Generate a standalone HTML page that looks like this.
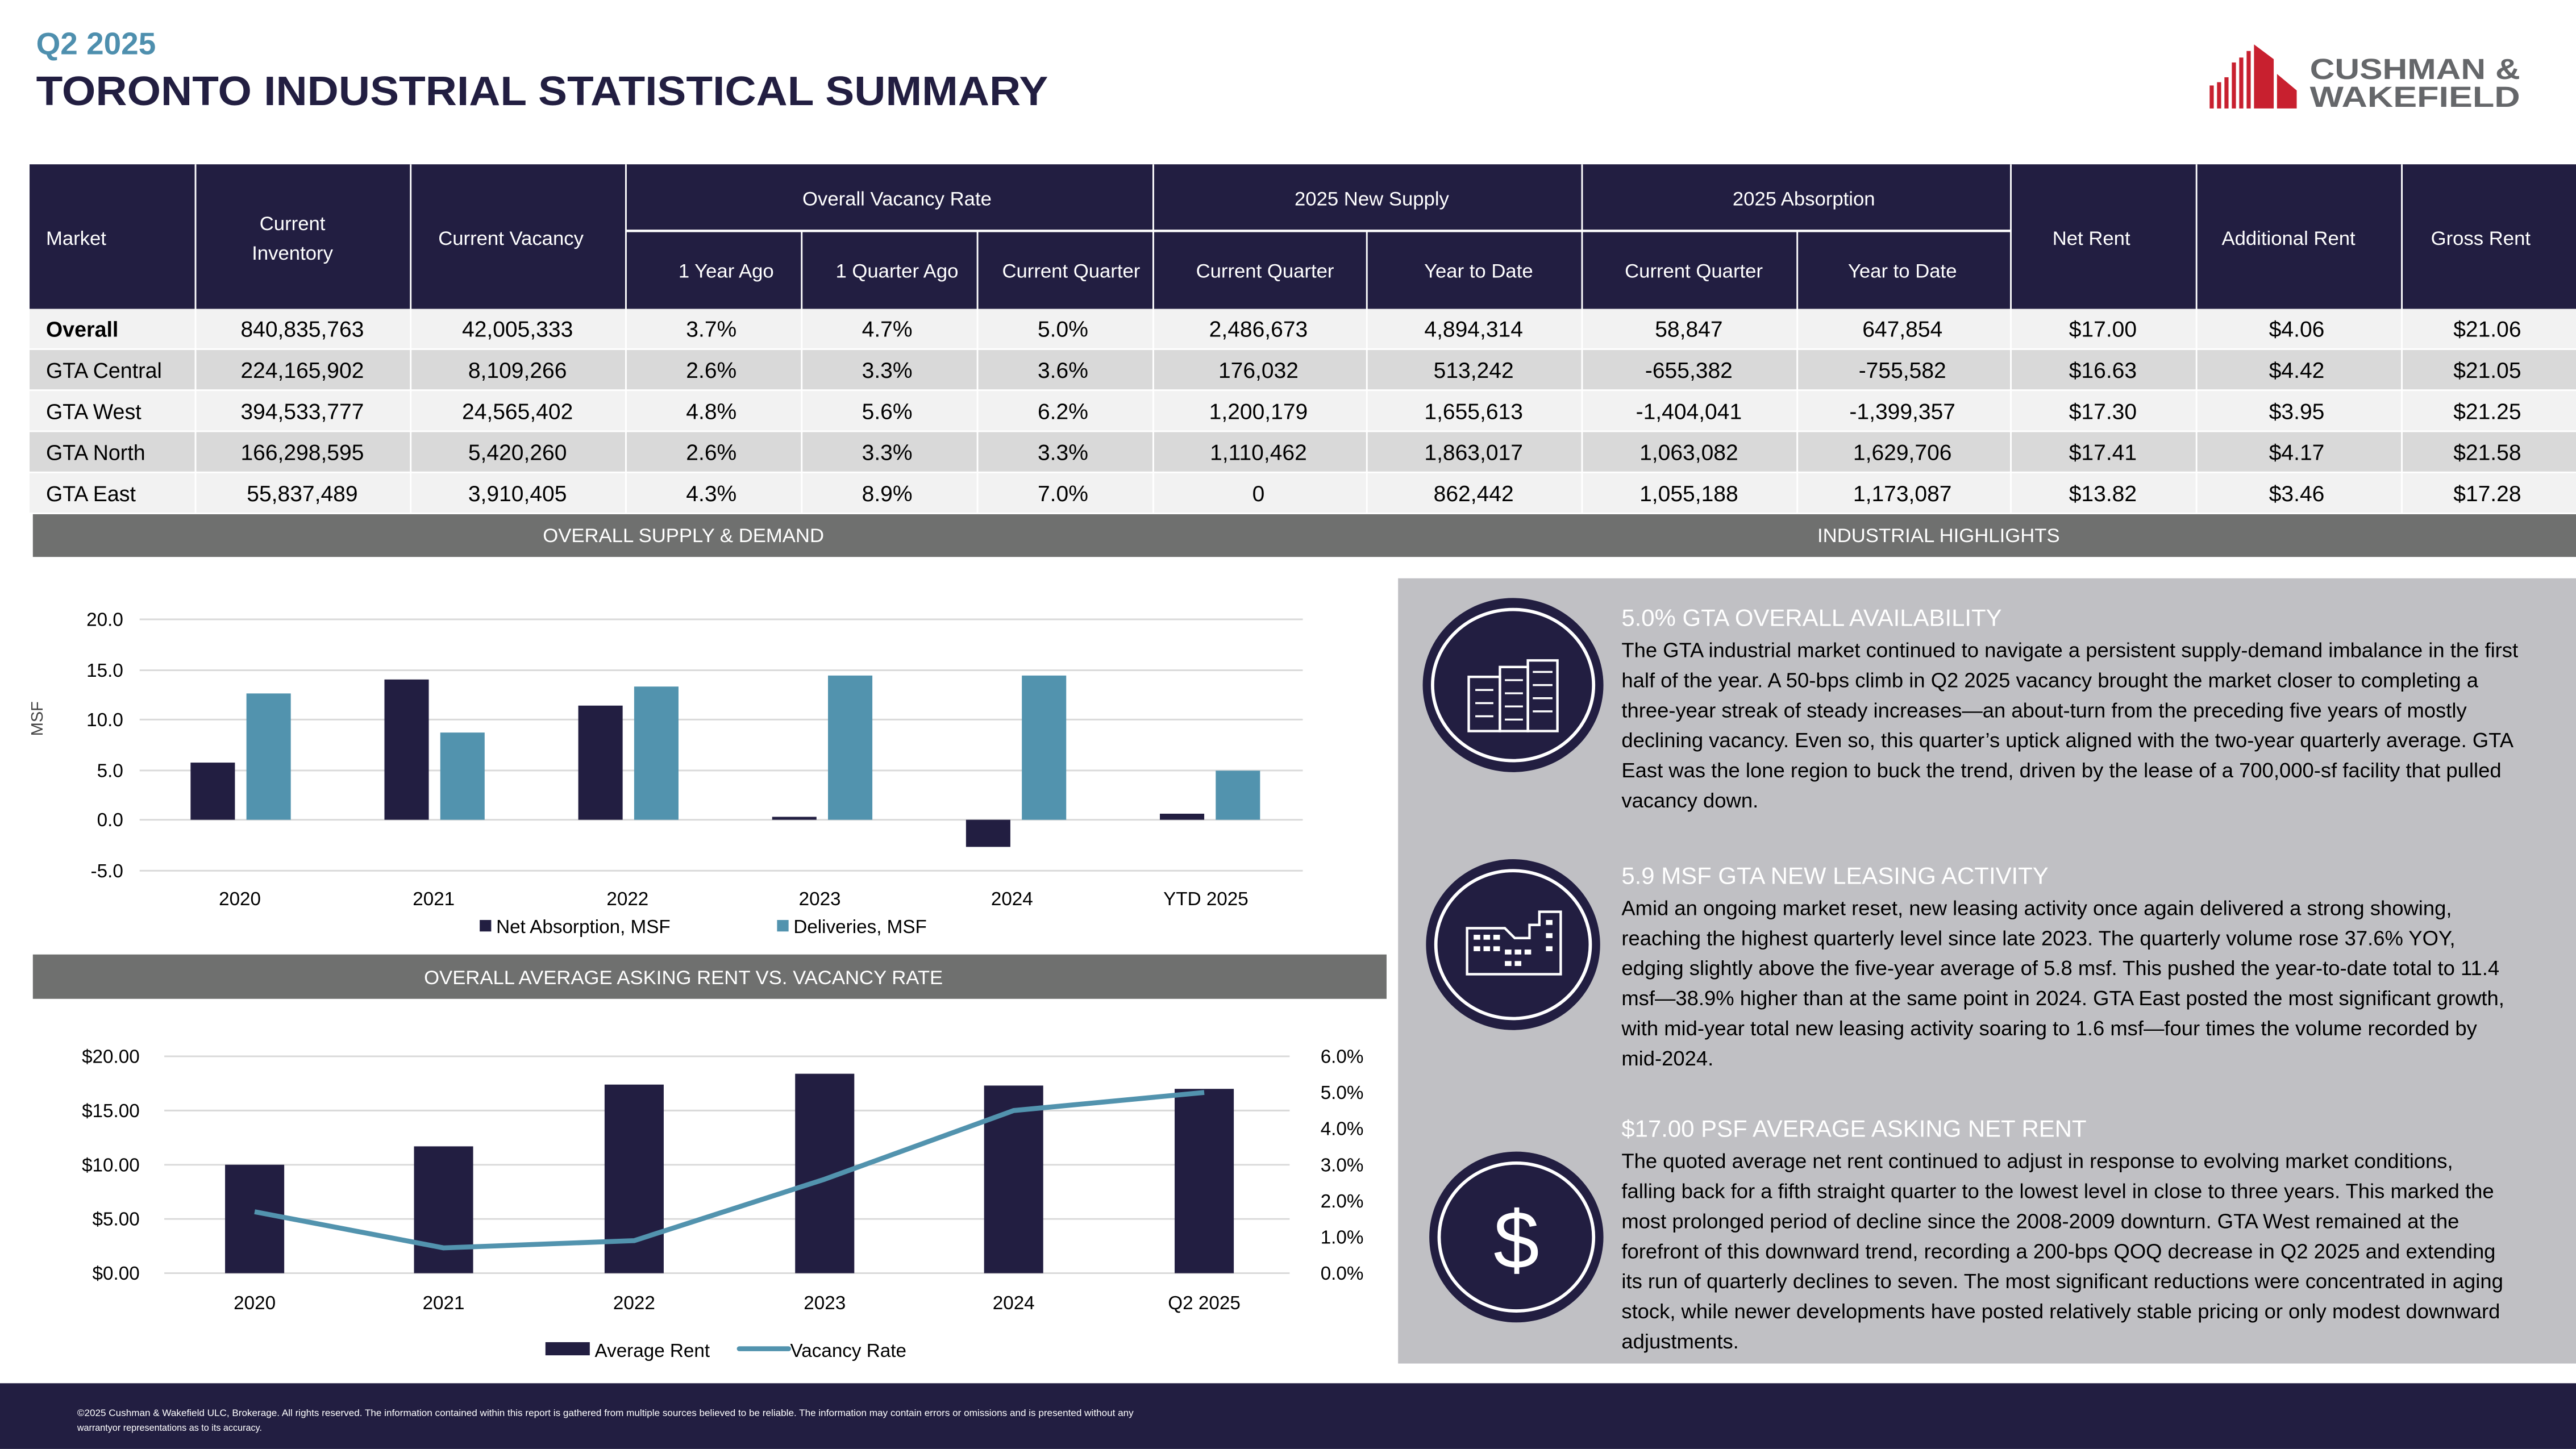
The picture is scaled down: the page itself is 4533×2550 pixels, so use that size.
<!DOCTYPE html>
<html><head><meta charset="utf-8"><style>
html,body{margin:0;padding:0;background:#fff;}
svg{display:block;}
text{font-family:"Liberation Sans",sans-serif;}
</style></head><body>
<svg xmlns="http://www.w3.org/2000/svg" width="4533" height="2550" viewBox="0 0 1568 882">
<rect width="1568" height="882" fill="#fff"/>
<text x="22" y="33" font-size="19" font-weight="bold" fill="#4e8fae">Q2 2025</text>
<text x="22" y="64" font-size="25" font-weight="bold" fill="#221e41" textLength="616" lengthAdjust="spacingAndGlyphs">TORONTO INDUSTRIAL STATISTICAL SUMMARY</text>
<g fill="#c8202f">
<rect x="1345" y="52" width="2.5" height="14"/><rect x="1349.5" y="50" width="2.5" height="16"/><rect x="1354" y="47" width="2.5" height="19"/>
<rect x="1358.5" y="38" width="2.5" height="28"/><rect x="1363" y="35" width="2.5" height="31"/><rect x="1367.5" y="31" width="2.5" height="35"/>
<polygon points="1372,27 1384,36 1384,66 1372,66"/>
<polygon points="1386,45 1398,55 1398,66 1386,66"/>
</g>
<text x="1406" y="48" font-size="17.5" font-weight="bold" fill="#65676a" textLength="128" lengthAdjust="spacingAndGlyphs">CUSHMAN &amp;</text>
<text x="1406" y="65" font-size="17.5" font-weight="bold" fill="#65676a" textLength="128" lengthAdjust="spacingAndGlyphs">WAKEFIELD</text>

<rect x="18" y="100" width="1550" height="88" fill="#221e41"/>
<g stroke="#fff" stroke-width="1">
<line x1="119" y1="100" x2="119" y2="312"/><line x1="250" y1="100" x2="250" y2="312"/><line x1="381" y1="100" x2="381" y2="312"/>
<line x1="488" y1="141" x2="488" y2="312"/><line x1="595" y1="141" x2="595" y2="312"/><line x1="702" y1="100" x2="702" y2="312"/>
<line x1="832" y1="141" x2="832" y2="312"/><line x1="963" y1="100" x2="963" y2="312"/><line x1="1094" y1="141" x2="1094" y2="312"/>
<line x1="1224" y1="100" x2="1224" y2="312"/><line x1="1337" y1="100" x2="1337" y2="312"/><line x1="1462" y1="100" x2="1462" y2="312"/>
</g>
<line x1="381" y1="140.5" x2="1224" y2="140.5" stroke="#fff" stroke-width="1.5"/>
<g font-size="12" fill="#fff" text-anchor="middle">
<text x="28" y="149" text-anchor="start">Market</text>
<text x="178" y="140">Current</text><text x="178" y="158">Inventory</text>
<text x="311" y="149">Current Vacancy</text>
<text x="546" y="125">Overall Vacancy Rate</text>
<text x="835" y="125">2025 New Supply</text>
<text x="1098" y="125">2025 Absorption</text>
<text x="442" y="169">1 Year Ago</text><text x="546" y="169">1 Quarter Ago</text><text x="652" y="169">Current Quarter</text>
<text x="770" y="169">Current Quarter</text><text x="900" y="169">Year to Date</text>
<text x="1031" y="169">Current Quarter</text><text x="1158" y="169">Year to Date</text>
<text x="1273" y="149">Net Rent</text><text x="1393" y="149">Additional Rent</text><text x="1510" y="149">Gross Rent</text>
</g>
<rect x="18" y="188" width="1550" height="24" fill="#f2f2f2"/>
<rect x="18" y="213" width="1550" height="24" fill="#d9d9d9"/>
<rect x="18" y="238" width="1550" height="24" fill="#f2f2f2"/>
<rect x="18" y="263" width="1550" height="24" fill="#d9d9d9"/>
<rect x="18" y="288" width="1550" height="24" fill="#f2f2f2"/>
<g stroke="#fff" stroke-width="1">
<line x1="119" y1="188" x2="119" y2="312"/><line x1="250" y1="188" x2="250" y2="312"/><line x1="381" y1="188" x2="381" y2="312"/>
<line x1="488" y1="188" x2="488" y2="312"/><line x1="595" y1="188" x2="595" y2="312"/><line x1="702" y1="188" x2="702" y2="312"/>
<line x1="832" y1="188" x2="832" y2="312"/><line x1="963" y1="188" x2="963" y2="312"/><line x1="1094" y1="188" x2="1094" y2="312"/>
<line x1="1224" y1="188" x2="1224" y2="312"/><line x1="1337" y1="188" x2="1337" y2="312"/><line x1="1462" y1="188" x2="1462" y2="312"/>
</g>
<g font-size="13.5" fill="#000" text-anchor="middle">
<text x="28" y="205" text-anchor="start" font-weight="bold" font-size="13">Overall</text>
<text x="184" y="205">840,835,763</text><text x="315" y="205">42,005,333</text><text x="433" y="205">3.7%</text><text x="540" y="205">4.7%</text><text x="647" y="205">5.0%</text><text x="766" y="205">2,486,673</text><text x="897" y="205">4,894,314</text><text x="1028" y="205">58,847</text><text x="1158" y="205">647,854</text><text x="1280" y="205">$17.00</text><text x="1398" y="205">$4.06</text><text x="1514" y="205">$21.06</text>
<text x="28" y="230" text-anchor="start" font-size="13">GTA Central</text>
<text x="184" y="230">224,165,902</text><text x="315" y="230">8,109,266</text><text x="433" y="230">2.6%</text><text x="540" y="230">3.3%</text><text x="647" y="230">3.6%</text><text x="766" y="230">176,032</text><text x="897" y="230">513,242</text><text x="1028" y="230">-655,382</text><text x="1158" y="230">-755,582</text><text x="1280" y="230">$16.63</text><text x="1398" y="230">$4.42</text><text x="1514" y="230">$21.05</text>
<text x="28" y="255" text-anchor="start" font-size="13">GTA West</text>
<text x="184" y="255">394,533,777</text><text x="315" y="255">24,565,402</text><text x="433" y="255">4.8%</text><text x="540" y="255">5.6%</text><text x="647" y="255">6.2%</text><text x="766" y="255">1,200,179</text><text x="897" y="255">1,655,613</text><text x="1028" y="255">-1,404,041</text><text x="1158" y="255">-1,399,357</text><text x="1280" y="255">$17.30</text><text x="1398" y="255">$3.95</text><text x="1514" y="255">$21.25</text>
<text x="28" y="280" text-anchor="start" font-size="13">GTA North</text>
<text x="184" y="280">166,298,595</text><text x="315" y="280">5,420,260</text><text x="433" y="280">2.6%</text><text x="540" y="280">3.3%</text><text x="647" y="280">3.3%</text><text x="766" y="280">1,110,462</text><text x="897" y="280">1,863,017</text><text x="1028" y="280">1,063,082</text><text x="1158" y="280">1,629,706</text><text x="1280" y="280">$17.41</text><text x="1398" y="280">$4.17</text><text x="1514" y="280">$21.58</text>
<text x="28" y="305" text-anchor="start" font-size="13">GTA East</text>
<text x="184" y="305">55,837,489</text><text x="315" y="305">3,910,405</text><text x="433" y="305">4.3%</text><text x="540" y="305">8.9%</text><text x="647" y="305">7.0%</text><text x="766" y="305">0</text><text x="897" y="305">862,442</text><text x="1028" y="305">1,055,188</text><text x="1158" y="305">1,173,087</text><text x="1280" y="305">$13.82</text><text x="1398" y="305">$3.46</text><text x="1514" y="305">$17.28</text>
</g>

<rect x="20" y="313" width="1548" height="26" fill="#6f706f"/>
<text x="416" y="330" font-size="12" fill="#fff" text-anchor="middle">OVERALL SUPPLY &amp; DEMAND</text>
<text x="1180" y="330" font-size="12" fill="#fff" text-anchor="middle">INDUSTRIAL HIGHLIGHTS</text>

<g stroke="#d9d9d9" stroke-width="1">
<line x1="85" y1="377" x2="793" y2="377"/><line x1="85" y1="408" x2="793" y2="408"/><line x1="85" y1="438" x2="793" y2="438"/>
<line x1="85" y1="469" x2="793" y2="469"/><line x1="85" y1="499" x2="793" y2="499"/><line x1="85" y1="530" x2="793" y2="530"/>
</g>
<g font-size="11.5" fill="#000" text-anchor="end">
<text x="75" y="381">20.0</text><text x="75" y="412">15.0</text><text x="75" y="442">10.0</text><text x="75" y="473">5.0</text><text x="75" y="503">0.0</text><text x="75" y="534">-5.0</text>
</g>
<text x="0" y="0" font-size="10" fill="#444" transform="translate(26,448) rotate(-90)">MSF</text>
<g fill="#221e41">
<rect x="116" y="464.2" width="27" height="34.8"/><rect x="234" y="413.6" width="27" height="85.4"/><rect x="352" y="429.5" width="27" height="69.5"/>
<rect x="470" y="497.2" width="27" height="1.8"/><rect x="588" y="499" width="27" height="16.5"/><rect x="706" y="495.3" width="27" height="3.7"/>
</g>
<g fill="#5293ae">
<rect x="150" y="422.1" width="27" height="76.9"/><rect x="268" y="445.9" width="27" height="53.1"/><rect x="386" y="417.9" width="27" height="81.1"/>
<rect x="504" y="411.2" width="27" height="87.8"/><rect x="622" y="411.2" width="27" height="87.8"/><rect x="740" y="469.1" width="27" height="29.9"/>
</g>
<g font-size="11.5" fill="#000" text-anchor="middle">
<text x="146" y="551">2020</text><text x="264" y="551">2021</text><text x="382" y="551">2022</text><text x="499" y="551">2023</text><text x="616" y="551">2024</text><text x="734" y="551">YTD 2025</text>
</g>
<rect x="292" y="560" width="7" height="7" fill="#221e41"/>
<text x="302" y="568" font-size="11.5">Net Absorption, MSF</text>
<rect x="473" y="560" width="7" height="7" fill="#5293ae"/>
<text x="483" y="568" font-size="11.5">Deliveries, MSF</text>

<rect x="20" y="581" width="824" height="27" fill="#6f706f"/>
<text x="416" y="599" font-size="12" fill="#fff" text-anchor="middle">OVERALL AVERAGE ASKING RENT VS. VACANCY RATE</text>

<g stroke="#d9d9d9" stroke-width="1">
<line x1="100" y1="643" x2="785" y2="643"/><line x1="100" y1="676" x2="785" y2="676"/><line x1="100" y1="709" x2="785" y2="709"/>
<line x1="100" y1="742" x2="785" y2="742"/><line x1="100" y1="775" x2="785" y2="775"/>
</g>
<g font-size="11.5" fill="#000" text-anchor="end">
<text x="85" y="647">$20.00</text><text x="85" y="680">$15.00</text><text x="85" y="713">$10.00</text><text x="85" y="746">$5.00</text><text x="85" y="779">$0.00</text>
</g>
<g font-size="11.5" fill="#000" text-anchor="end">
<text x="830" y="647">6.0%</text><text x="830" y="669">5.0%</text><text x="830" y="691">4.0%</text><text x="830" y="713">3.0%</text><text x="830" y="735">2.0%</text><text x="830" y="757">1.0%</text><text x="830" y="779">0.0%</text>
</g>
<g fill="#221e41">
<rect x="137" y="709" width="36" height="66"/><rect x="252" y="697.8" width="36" height="77.2"/><rect x="368" y="660.2" width="36" height="114.8"/>
<rect x="484" y="653.6" width="36" height="121.4"/><rect x="599" y="660.8" width="36" height="114.2"/><rect x="715" y="662.8" width="36" height="112.2"/>
</g>
<polyline points="155,737.6 270,759.6 386,755.2 502,717.8 617,676 733,665" fill="none" stroke="#5293ae" stroke-width="3" stroke-linejoin="round"/>
<g font-size="11.5" fill="#000" text-anchor="middle">
<text x="155" y="797">2020</text><text x="270" y="797">2021</text><text x="386" y="797">2022</text><text x="502" y="797">2023</text><text x="617" y="797">2024</text><text x="733" y="797">Q2 2025</text>
</g>
<rect x="332" y="817" width="27" height="8" fill="#221e41"/>
<text x="362" y="826" font-size="11.5">Average Rent</text>
<line x1="450" y1="821" x2="480" y2="821" stroke="#5293ae" stroke-width="3" stroke-linecap="round"/>
<text x="481" y="826" font-size="11.5">Vacancy Rate</text>

<rect x="851" y="352" width="717" height="478" fill="#c0c0c4"/>
<g>
<ellipse cx="921" cy="417" rx="55" ry="53" fill="#221e41"/>
<ellipse cx="921" cy="417" rx="49" ry="46" fill="none" stroke="#fff" stroke-width="2"/>
<g fill="none" stroke="#fff" stroke-width="1.5">
<rect x="894" y="412" width="19" height="33"/><rect x="913" y="406" width="17" height="39"/><rect x="930" y="402" width="18" height="43"/>
</g>
<g stroke="#fff" stroke-width="1.2">
<line x1="898" y1="420" x2="909" y2="420"/><line x1="898" y1="428" x2="909" y2="428"/><line x1="898" y1="436" x2="909" y2="436"/>
<line x1="916" y1="414" x2="927" y2="414"/><line x1="916" y1="422" x2="927" y2="422"/><line x1="916" y1="430" x2="927" y2="430"/><line x1="916" y1="438" x2="927" y2="438"/>
<line x1="933" y1="409" x2="945" y2="409"/><line x1="933" y1="417" x2="945" y2="417"/><line x1="933" y1="425" x2="945" y2="425"/><line x1="933" y1="433" x2="945" y2="433"/>
</g>
<ellipse cx="921" cy="575" rx="53" ry="52" fill="#221e41"/>
<ellipse cx="921" cy="575" rx="47" ry="45" fill="none" stroke="#fff" stroke-width="2"/>
<path d="M893 593 V565 H916 L922 571 H931 V563 H937 V555 H950 V593 Z" fill="none" stroke="#fff" stroke-width="1.5"/>
<g fill="#fff">
<rect x="897" y="569" width="4" height="3"/><rect x="903" y="569" width="4" height="3"/><rect x="909" y="569" width="4" height="3"/>
<rect x="897" y="576" width="4" height="3"/><rect x="903" y="576" width="4" height="3"/><rect x="909" y="576" width="4" height="3"/>
<rect x="916" y="578" width="4" height="3"/><rect x="922" y="578" width="4" height="3"/><rect x="928" y="578" width="4" height="3"/>
<rect x="941" y="560" width="4" height="3"/><rect x="941" y="568" width="4" height="3"/><rect x="941" y="576" width="4" height="3"/>
<rect x="916" y="585" width="4" height="3"/><rect x="922" y="585" width="4" height="3"/>
</g>
<ellipse cx="923" cy="753" rx="53" ry="52" fill="#221e41"/>
<ellipse cx="923" cy="753" rx="47" ry="45" fill="none" stroke="#fff" stroke-width="2"/>
<text x="923" y="772" font-size="50" fill="#fff" text-anchor="middle">$</text>
</g>
<g font-size="14.5" fill="#fff">
<text x="987" y="381">5.0% GTA OVERALL AVAILABILITY</text>
<text x="987" y="538">5.9 MSF GTA NEW LEASING ACTIVITY</text>
<text x="987" y="692">$17.00 PSF AVERAGE ASKING NET RENT</text>
</g>
<g font-size="12.6" fill="#000">
<text x="987" y="400">The GTA industrial market continued to navigate a persistent supply-demand imbalance in the first</text>
<text x="987" y="418.3">half of the year. A 50-bps climb in Q2 2025 vacancy brought the market closer to completing a</text>
<text x="987" y="436.6">three-year streak of steady increases—an about-turn from the preceding five years of mostly</text>
<text x="987" y="454.9">declining vacancy. Even so, this quarter’s uptick aligned with the two-year quarterly average. GTA</text>
<text x="987" y="473.2">East was the lone region to buck the trend, driven by the lease of a 700,000-sf facility that pulled</text>
<text x="987" y="491.5">vacancy down.</text>
<text x="987" y="557">Amid an ongoing market reset, new leasing activity once again delivered a strong showing,</text>
<text x="987" y="575.3">reaching the highest quarterly level since late 2023. The quarterly volume rose 37.6% YOY,</text>
<text x="987" y="593.6">edging slightly above the five-year average of 5.8 msf. This pushed the year-to-date total to 11.4</text>
<text x="987" y="611.9">msf—38.9% higher than at the same point in 2024. GTA East posted the most significant growth,</text>
<text x="987" y="630.2">with mid-year total new leasing activity soaring to 1.6 msf—four times the volume recorded by</text>
<text x="987" y="648.5">mid-2024.</text>
<text x="987" y="711">The quoted average net rent continued to adjust in response to evolving market conditions,</text>
<text x="987" y="729.3">falling back for a fifth straight quarter to the lowest level in close to three years. This marked the</text>
<text x="987" y="747.6">most prolonged period of decline since the 2008-2009 downturn. GTA West remained at the</text>
<text x="987" y="765.9">forefront of this downward trend, recording a 200-bps QOQ decrease in Q2 2025 and extending</text>
<text x="987" y="784.2">its run of quarterly declines to seven. The most significant reductions were concentrated in aging</text>
<text x="987" y="802.5">stock, while newer developments have posted relatively stable pricing or only modest downward</text>
<text x="987" y="820.8">adjustments.</text>
</g>

<rect x="0" y="842" width="1568" height="40" fill="#221e41"/>
<text x="47" y="862" font-size="5.6" fill="#fff" textLength="643" lengthAdjust="spacingAndGlyphs">©2025 Cushman &amp; Wakefield ULC, Brokerage. All rights reserved. The information contained within this report is gathered from multiple sources believed to be reliable. The information may contain errors or  omissions and is presented without any</text>
<text x="47" y="871" font-size="5.6" fill="#fff">warrantyor representations as to its accuracy.</text>
</svg>
</body></html>
